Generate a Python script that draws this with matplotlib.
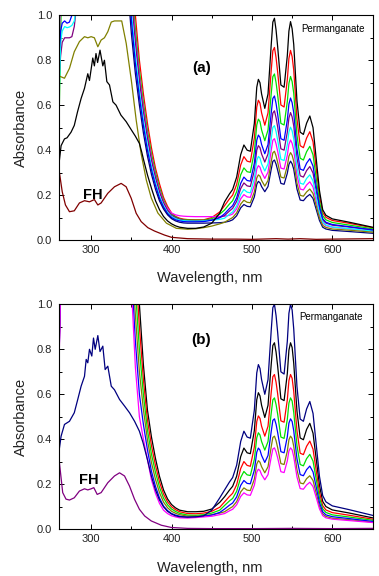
import matplotlib.pyplot as plt
from matplotlib.ticker import MultipleLocator

plt.rcParams['font.family'] = ['Liberation Sans', 'DejaVu Sans']

# ----------------------------------------------------------------------
# data (wavelength in nm, absorbance)
# ----------------------------------------------------------------------

# shared grid for the permanganate bands
wl_vis = [440, 450, 460, 466, 472, 476, 481, 486, 490, 494, 498, 503, 506, 508,
          510, 512, 516, 520, 524, 526, 528, 530, 532, 536, 540, 544, 546, 548,
          550, 552, 556, 560, 564, 568, 572, 576, 580, 584, 588, 592, 600, 620,
          650]

# --- panel (a) ---
wl_left_a = [259.5, 262, 264, 267, 270, 273, 276, 279, 282, 287]
wl_wall_a = [345, 350, 355, 360, 365, 370, 375, 380, 385, 390, 395, 400, 405,
             410, 415, 420, 430]

red_left_a = [0.9, 1.2, 1.5, 1.5, 1.5, 1.5, 1.5, 1.5, 1.5, 1.5]
green_left_a = [0.42, 0.9, 1.3, 1.5, 1.5, 1.5, 1.5, 1.5, 1.5, 1.5]
magenta_left_a = [0.78, 1.1, 1.5, 1.5, 1.5, 1.5, 1.5, 1.5, 1.5, 1.5]
navy_left_a = [0.85, 1.2, 1.5, 1.5, 1.5, 1.5, 1.5, 1.5, 1.5, 1.5]
blue_left_a = [0.8, 0.93, 0.965, 0.975, 0.965, 0.97, 1.0, 1.1, 1.2, 1.4]
cyan_left_a = [0.55, 0.88, 0.93, 0.95, 0.945, 0.948, 0.955, 0.975, 1.05, 1.3]
purple_left_a = [0.7, 0.82, 0.88, 0.9, 0.9, 0.9, 0.905, 0.95, 1.05, 1.3]

red_wall_a = [1.5, 1.2, 1.0, 0.8, 0.65, 0.52, 0.41, 0.32, 0.25, 0.19, 0.15,
              0.12, 0.105, 0.097, 0.093, 0.091, 0.09]
green_wall_a = [1.5, 1.14, 0.94, 0.755, 0.61, 0.487, 0.383, 0.30, 0.232, 0.178,
                0.141, 0.115, 0.102, 0.094, 0.09, 0.089, 0.088]
magenta_wall_a = [1.5, 1.1, 0.9, 0.725, 0.585, 0.465, 0.365, 0.285, 0.22, 0.17,
                  0.14, 0.12, 0.112, 0.108, 0.106, 0.105, 0.104]
purple_wall_a = [1.5, 1.08, 0.88, 0.71, 0.57, 0.455, 0.355, 0.278, 0.214, 0.166,
                 0.132, 0.11, 0.099, 0.092, 0.088, 0.086, 0.085]
cyan_wall_a = [1.5, 1.02, 0.82, 0.665, 0.533, 0.42, 0.329, 0.257, 0.196, 0.154,
               0.123, 0.104, 0.095, 0.089, 0.086, 0.085, 0.084]
blue_wall_a = [1.3, 0.98, 0.785, 0.637, 0.509, 0.40, 0.313, 0.244, 0.186, 0.147,
               0.118, 0.10, 0.09, 0.085, 0.082, 0.081, 0.081]
navy_wall_a = [1.15, 0.92, 0.74, 0.60, 0.476, 0.374, 0.292, 0.226, 0.174, 0.138,
               0.112, 0.095, 0.085, 0.079, 0.076, 0.075, 0.075]

black_vis_a = [0.058, 0.075, 0.12, 0.17, 0.205, 0.225, 0.28, 0.38, 0.423, 0.40,
               0.395, 0.52, 0.68, 0.715, 0.70, 0.65, 0.586, 0.65, 0.87, 0.97,
               0.987, 0.935, 0.86, 0.69, 0.68, 0.82, 0.93, 0.972, 0.94, 0.87,
               0.62, 0.48, 0.47, 0.52, 0.552, 0.50, 0.36, 0.22, 0.135, 0.11,
               0.094, 0.08, 0.057]
red_vis_a = [0.09, 0.10, 0.125, 0.153, 0.183, 0.200, 0.247, 0.334, 0.371, 0.351,
             0.347, 0.454, 0.592, 0.622, 0.609, 0.566, 0.511, 0.566, 0.756,
             0.842, 0.857, 0.812, 0.747, 0.601, 0.592, 0.713, 0.808, 0.844,
             0.816, 0.756, 0.540, 0.420, 0.411, 0.454, 0.482, 0.437, 0.316,
             0.196, 0.122, 0.101, 0.087, 0.075, 0.055]
green_vis_a = [0.088, 0.095, 0.115, 0.134, 0.160, 0.175, 0.215, 0.290, 0.321,
               0.304, 0.301, 0.393, 0.512, 0.538, 0.527, 0.490, 0.442, 0.490,
               0.653, 0.727, 0.739, 0.701, 0.645, 0.519, 0.512, 0.616, 0.697,
               0.728, 0.705, 0.653, 0.467, 0.364, 0.356, 0.393, 0.417, 0.379,
               0.275, 0.171, 0.108, 0.090, 0.078, 0.067, 0.050]
blue_vis_a = [0.082, 0.088, 0.10, 0.117, 0.140, 0.153, 0.188, 0.252, 0.280,
              0.265, 0.262, 0.342, 0.444, 0.467, 0.457, 0.425, 0.384, 0.425,
              0.566, 0.630, 0.641, 0.608, 0.560, 0.451, 0.444, 0.534, 0.605,
              0.632, 0.611, 0.566, 0.406, 0.316, 0.310, 0.342, 0.362, 0.329,
              0.239, 0.150, 0.095, 0.079, 0.069, 0.060, 0.045]
purple_vis_a = [0.086, 0.09, 0.10, 0.109, 0.129, 0.141, 0.172, 0.229, 0.254,
                0.241, 0.238, 0.309, 0.400, 0.420, 0.411, 0.383, 0.347, 0.383,
                0.508, 0.565, 0.575, 0.545, 0.503, 0.406, 0.400, 0.480, 0.543,
                0.567, 0.548, 0.508, 0.366, 0.286, 0.280, 0.309, 0.327, 0.298,
                0.218, 0.138, 0.089, 0.075, 0.066, 0.058, 0.045]
cyan_vis_a = [0.085, 0.088, 0.092, 0.097, 0.115, 0.125, 0.152, 0.203, 0.225,
              0.213, 0.210, 0.274, 0.354, 0.372, 0.365, 0.339, 0.307, 0.339,
              0.450, 0.501, 0.509, 0.483, 0.445, 0.359, 0.354, 0.425, 0.481,
              0.502, 0.486, 0.450, 0.324, 0.253, 0.248, 0.274, 0.290, 0.263,
              0.193, 0.122, 0.079, 0.067, 0.058, 0.051, 0.040]
magenta_vis_a = [0.104, 0.104, 0.105, 0.106, 0.110, 0.116, 0.139, 0.183, 0.202,
                 0.192, 0.190, 0.245, 0.316, 0.331, 0.324, 0.302, 0.274, 0.302,
                 0.400, 0.444, 0.451, 0.428, 0.395, 0.320, 0.316, 0.377, 0.426,
                 0.445, 0.430, 0.400, 0.289, 0.227, 0.223, 0.245, 0.259, 0.236,
                 0.174, 0.112, 0.075, 0.064, 0.057, 0.050, 0.040]
olive_vis_a = [0.055, 0.062, 0.072, 0.079, 0.092, 0.100, 0.121, 0.160, 0.177,
               0.168, 0.166, 0.214, 0.276, 0.290, 0.284, 0.265, 0.240, 0.265,
               0.350, 0.388, 0.395, 0.375, 0.346, 0.280, 0.276, 0.330, 0.373,
               0.389, 0.377, 0.350, 0.253, 0.199, 0.195, 0.214, 0.227, 0.207,
               0.152, 0.098, 0.065, 0.056, 0.049, 0.044, 0.035]
navy_vis_a = [0.075, 0.076, 0.077, 0.079, 0.084, 0.090, 0.108, 0.143, 0.158,
              0.150, 0.148, 0.192, 0.248, 0.261, 0.255, 0.238, 0.215, 0.238,
              0.315, 0.350, 0.356, 0.338, 0.311, 0.252, 0.248, 0.297, 0.336,
              0.351, 0.339, 0.315, 0.227, 0.178, 0.175, 0.192, 0.203, 0.185,
              0.136, 0.087, 0.057, 0.049, 0.043, 0.038, 0.030]

# permanganate alone, UV part
wl_black_uv_a = [260, 262.6, 266.8, 270, 275, 279, 283, 287.5, 291.7, 295.8,
                 297.9, 302, 304, 306, 308, 311, 314.5, 316.5, 319.5, 322.8,
                 327, 331, 337, 343.5, 350, 355, 360, 363, 365, 370, 375, 380,
                 385, 390, 395, 400, 405, 410, 420, 430]
black_uv_a = [0.34, 0.42, 0.45, 0.455, 0.48, 0.51, 0.57, 0.63, 0.675, 0.74,
              0.71, 0.81, 0.775, 0.83, 0.79, 0.845, 0.775, 0.80, 0.705, 0.69,
              0.615, 0.60, 0.556, 0.527, 0.49, 0.462, 0.43, 0.39, 0.36, 0.29,
              0.23, 0.175, 0.135, 0.105, 0.085, 0.072, 0.063, 0.057, 0.052,
              0.052]

wl_olive_uv_a = [260, 266.8, 273, 279, 285.4, 291.7, 295.8, 300, 304, 308.3,
                 312.4, 316.5, 320.7, 325, 329, 335, 338, 343.6, 350, 356, 362,
                 368.6, 374.8, 383, 393.6, 406, 420, 430]
olive_uv_a = [0.73, 0.72, 0.764, 0.838, 0.883, 0.905, 0.90, 0.905, 0.90, 0.86,
              0.89, 0.90, 0.927, 0.97, 0.975, 0.975, 0.975, 0.875, 0.71, 0.534,
              0.387, 0.267, 0.187, 0.12, 0.075, 0.052, 0.048, 0.05]

# FH alone
wl_fh_a = [259.5, 260.5, 264, 268, 273, 279, 285.4, 291.7, 297.9, 304, 308.3,
           312.4, 320.7, 329, 337.3, 343.5, 349.8, 356, 362.2, 370.5, 378.8,
           391.3, 400, 420, 450, 480, 500, 530, 545, 560, 580, 600, 625, 650]
fh_a = [0.13, 0.30, 0.215, 0.156, 0.126, 0.13, 0.165, 0.175, 0.17, 0.18, 0.156,
        0.165, 0.208, 0.237, 0.252, 0.237, 0.186, 0.119, 0.082, 0.055, 0.04,
        0.022, 0.012, 0.006, 0.004, 0.004, 0.003, 0.006, 0.004, 0.006, 0.003,
        0.004, 0.005, 0.006]

# --- panel (b) ---
wl_left_b = [259.5, 261, 262.5, 264]
wl_wall_b = [345, 350, 355, 360, 365, 370, 375, 380, 385, 390, 395, 400, 405,
             410, 420, 430]

black_left_b = [0.72, 0.95, 1.3, 1.5]
red_left_b = [0.7, 0.92, 1.25, 1.5]
green_left_b = [0.75, 0.98, 1.3, 1.5]
olive_left_b = [0.74, 0.96, 1.3, 1.5]
blue_left_b = [0.7, 0.9, 1.2, 1.5]
magenta_left_b = [0.68, 0.88, 1.2, 1.5]

black_wall_b = [1.5, 1.5, 1.3, 1.0, 0.73, 0.53, 0.41, 0.315, 0.235, 0.175,
                0.135, 0.11, 0.095, 0.085, 0.078, 0.078]
red_wall_b = [1.5, 1.42, 1.184, 0.90, 0.664, 0.486, 0.372, 0.284, 0.211, 0.157,
              0.122, 0.10, 0.087, 0.078, 0.07, 0.069]
green_wall_b = [1.5, 1.33, 1.068, 0.80, 0.598, 0.442, 0.334, 0.253, 0.187,
                0.139, 0.109, 0.09, 0.079, 0.071, 0.063, 0.062]
olive_wall_b = [1.5, 1.25, 0.952, 0.70, 0.532, 0.398, 0.296, 0.222, 0.163,
                0.121, 0.096, 0.08, 0.071, 0.065, 0.058, 0.058]
blue_wall_b = [1.5, 1.16, 0.836, 0.60, 0.466, 0.354, 0.258, 0.191, 0.139, 0.103,
               0.083, 0.07, 0.063, 0.058, 0.053, 0.055]
magenta_wall_b = [1.5, 1.08, 0.72, 0.50, 0.40, 0.31, 0.22, 0.16, 0.115, 0.085,
                  0.07, 0.06, 0.055, 0.051, 0.05, 0.052]

black_vis_b = [0.08, 0.09, 0.12, 0.145, 0.174, 0.191, 0.236, 0.323, 0.361, 0.340,
               0.336, 0.439, 0.576, 0.607, 0.593, 0.551, 0.497, 0.551, 0.734,
               0.817, 0.829, 0.788, 0.725, 0.580, 0.572, 0.692, 0.796, 0.829,
               0.808, 0.738, 0.526, 0.406, 0.398, 0.444, 0.471, 0.427, 0.311,
               0.195, 0.124, 0.101, 0.086, 0.073, 0.051]
red_vis_b = [0.072, 0.08, 0.098, 0.122, 0.146, 0.160, 0.198, 0.270, 0.301, 0.284,
             0.280, 0.366, 0.479, 0.504, 0.493, 0.458, 0.414, 0.458, 0.609,
             0.678, 0.688, 0.654, 0.602, 0.482, 0.476, 0.575, 0.661, 0.688,
             0.671, 0.613, 0.438, 0.338, 0.332, 0.369, 0.392, 0.356, 0.260,
             0.164, 0.105, 0.086, 0.074, 0.063, 0.045]
green_vis_b = [0.065, 0.072, 0.085, 0.106, 0.126, 0.137, 0.169, 0.230, 0.257,
               0.242, 0.239, 0.311, 0.407, 0.429, 0.419, 0.390, 0.352, 0.390,
               0.517, 0.575, 0.584, 0.555, 0.512, 0.410, 0.404, 0.488, 0.561,
               0.584, 0.570, 0.520, 0.372, 0.288, 0.282, 0.314, 0.333, 0.303,
               0.222, 0.140, 0.091, 0.075, 0.064, 0.055, 0.040]
blue_vis_b = [0.058, 0.063, 0.075, 0.090, 0.107, 0.117, 0.144, 0.195, 0.217,
              0.204, 0.202, 0.263, 0.343, 0.361, 0.352, 0.328, 0.297, 0.328,
              0.435, 0.484, 0.491, 0.467, 0.430, 0.345, 0.340, 0.411, 0.472,
              0.491, 0.479, 0.438, 0.314, 0.243, 0.238, 0.265, 0.281, 0.255,
              0.187, 0.119, 0.078, 0.064, 0.056, 0.048, 0.035]
olive_vis_b = [0.06, 0.065, 0.072, 0.078, 0.092, 0.101, 0.123, 0.166, 0.184,
               0.174, 0.172, 0.223, 0.290, 0.305, 0.298, 0.278, 0.251, 0.278,
               0.367, 0.408, 0.414, 0.394, 0.363, 0.292, 0.288, 0.347, 0.398,
               0.414, 0.404, 0.369, 0.265, 0.206, 0.202, 0.225, 0.238, 0.217,
               0.160, 0.103, 0.068, 0.057, 0.049, 0.043, 0.032]
magenta_vis_b = [0.055, 0.058, 0.065, 0.070, 0.082, 0.089, 0.109, 0.146, 0.162,
                 0.153, 0.151, 0.196, 0.254, 0.267, 0.261, 0.243, 0.220, 0.243,
                 0.321, 0.357, 0.362, 0.344, 0.318, 0.256, 0.252, 0.304, 0.348,
                 0.362, 0.353, 0.323, 0.233, 0.181, 0.178, 0.197, 0.209, 0.190,
                 0.141, 0.091, 0.061, 0.051, 0.045, 0.039, 0.030]
navy_vis_b = [0.06, 0.085, 0.14, 0.175, 0.21, 0.23, 0.285, 0.39, 0.436, 0.41,
              0.405, 0.53, 0.695, 0.732, 0.715, 0.665, 0.60, 0.665, 0.885, 0.985,
              1.0, 0.95, 0.875, 0.70, 0.69, 0.835, 0.96, 1.0, 0.975, 0.89,
              0.635, 0.49, 0.48, 0.535, 0.568, 0.515, 0.375, 0.235, 0.15, 0.122,
              0.104, 0.088, 0.062]

wl_navy_uv_b = [259.5, 260.5, 262.6, 266.8, 273, 279, 283.3, 287.5, 291.7,
                293.8, 295.8, 297.9, 300.8, 302.9, 305, 308.3, 311, 314.5,
                317.4, 320.7, 325, 329, 335.3, 341.5, 347.7, 354, 360, 364.5,
                370, 375, 380, 385, 390, 395, 400, 405, 410, 420, 430]
navy_uv_b = [0.75, 0.36, 0.414, 0.466, 0.48, 0.518, 0.577, 0.636, 0.68, 0.755,
             0.74, 0.80, 0.77, 0.85, 0.80, 0.861, 0.79, 0.814, 0.71, 0.725,
             0.636, 0.62, 0.577, 0.548, 0.518, 0.48, 0.436, 0.385, 0.31, 0.235,
             0.175, 0.13, 0.10, 0.08, 0.068, 0.06, 0.056, 0.054, 0.055]

wl_fh_b = [259.5, 260.5, 264.6, 268.7, 273, 279, 285.4, 291.7, 295.8, 300,
           303.3, 307.5, 312.4, 320.7, 329, 335.3, 341.5, 347.7, 354, 360,
           366.6, 374.8, 387.3, 399.8, 420, 450, 500, 550, 600, 650]
fh_b = [0.148, 0.296, 0.163, 0.134, 0.13, 0.14, 0.17, 0.18, 0.175, 0.18, 0.185,
        0.155, 0.163, 0.207, 0.237, 0.251, 0.237, 0.192, 0.133, 0.089, 0.059,
        0.037, 0.018, 0.008, 0.004, 0.003, 0.003, 0.004, 0.003, 0.004]

# ----------------------------------------------------------------------
# plotting
# ----------------------------------------------------------------------

lw = 0.9
fig = plt.figure(figsize=(3.79, 5.76), dpi=100)
ax_a = fig.add_axes([0.1557, 0.5833, 0.8272, 0.3901])
ax_b = fig.add_axes([0.1557, 0.0811, 0.8272, 0.3906])

# panel (a): FH + permanganate mixtures
series_a = [
    (red_left_a, red_wall_a, red_vis_a, '#ff0000'),
    (green_left_a, green_wall_a, green_vis_a, '#00e000'),
    (magenta_left_a, magenta_wall_a, magenta_vis_a, '#ff00ff'),
    (purple_left_a, purple_wall_a, purple_vis_a, '#800080'),
    (cyan_left_a, cyan_wall_a, cyan_vis_a, '#00ffff'),
    (blue_left_a, blue_wall_a, blue_vis_a, '#0000ff'),
    (navy_left_a, navy_wall_a, navy_vis_a, '#000080'),
]
for left, wall, vis, col in series_a:
    ax_a.plot(wl_left_a + wl_wall_a + wl_vis, left + wall + vis,
              color=col, lw=lw)
ax_a.plot(wl_olive_uv_a + wl_vis, olive_uv_a + olive_vis_a, color='#808000', lw=lw)
ax_a.plot(wl_black_uv_a + wl_vis, black_uv_a + black_vis_a, color='black', lw=lw)
ax_a.plot(wl_fh_a, fh_a, color='#800000', lw=lw)

# panel (b)
series_b = [
    (black_left_b, black_wall_b, black_vis_b, 'black'),
    (red_left_b, red_wall_b, red_vis_b, '#ff0000'),
    (green_left_b, green_wall_b, green_vis_b, '#00e000'),
    (olive_left_b, olive_wall_b, olive_vis_b, '#808000'),
    (blue_left_b, blue_wall_b, blue_vis_b, '#0000ff'),
    (magenta_left_b, magenta_wall_b, magenta_vis_b, '#ff00ff'),
]
for left, wall, vis, col in series_b:
    ax_b.plot(wl_left_b + wl_wall_b + wl_vis, left + wall + vis,
              color=col, lw=lw)
ax_b.plot(wl_navy_uv_b + wl_vis, navy_uv_b + navy_vis_b, color='#000080', lw=lw)
ax_b.plot(wl_fh_b, fh_b, color='#800080', lw=lw)

for ax in [ax_a, ax_b]:
    ax.set_xlim(260, 650)
    ax.set_ylim(0, 1.0)
    ax.xaxis.set_major_locator(MultipleLocator(100))
    ax.xaxis.set_minor_locator(MultipleLocator(50))
    ax.yaxis.set_major_locator(MultipleLocator(0.2))
    ax.yaxis.set_minor_locator(MultipleLocator(0.1))
    ax.yaxis.set_major_formatter(plt.FormatStrFormatter('%.1f'))
    ax.tick_params(which='both', direction='in', top=True, right=True,
                   labelsize=8, width=0.7, labelcolor='#222222')
    ax.tick_params(which='major', length=3.5)
    ax.tick_params(which='minor', length=2)
    ax.tick_params(axis='y', pad=5)
    for sp in ax.spines.values():
        sp.set_linewidth(0.8)
    ax.set_xlabel('Wavelength, nm', fontsize=10.5, color='#222222')
    ax.set_ylabel('Absorbance', fontsize=10.5, color='#222222')
    ax.xaxis.set_label_coords(0.481, -0.14)
    ax.yaxis.set_label_coords(-0.10, 0.5)

ax_a.text(437, 0.764, '(a)', fontsize=11, fontweight='bold',
          ha='center', va='center')
ax_a.text(301.7, 0.202, 'FH', fontsize=10.5, fontweight='bold',
          ha='center', va='center')
ax_a.text(601, 0.941, 'Permanganate', fontsize=7, ha='center', va='center')

ax_b.text(437, 0.84, '(b)', fontsize=11, fontweight='bold',
          ha='center', va='center')
ax_b.text(296.7, 0.22, 'FH', fontsize=10.5, fontweight='bold',
          ha='center', va='center')
ax_b.text(598.8, 0.944, 'Permanganate', fontsize=7, ha='center', va='center')

fig.savefig('out.png', dpi=100)
